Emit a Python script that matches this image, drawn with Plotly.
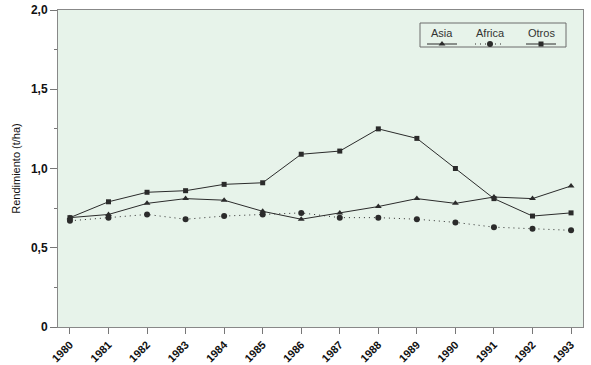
import plotly.graph_objects as go

years = list(range(1980, 1994))
asia = [0.69, 0.71, 0.78, 0.81, 0.80, 0.73, 0.68, 0.72, 0.76, 0.81, 0.78, 0.82, 0.81, 0.89]
africa = [0.67, 0.69, 0.71, 0.68, 0.70, 0.71, 0.72, 0.69, 0.69, 0.68, 0.66, 0.63, 0.62, 0.61]
otros = [0.69, 0.79, 0.85, 0.86, 0.90, 0.91, 1.09, 1.11, 1.25, 1.19, 1.00, 0.81, 0.70, 0.72]
series_names = ["Asia", "Africa", "Otros"]
y_tickvals = [0, 0.5, 1.0, 1.5, 2.0]
y_ticktext = ["0", "0,5", "1,0", "1,5", "2,0"]
y_title = "Rendimiento (t/ha)"

LINE = "#2b2b2b"
BG = "#e7f3ea"
FONT = "Liberation Sans, Arial, sans-serif"

styles = {
    "Asia": dict(symbol="triangle-up", dash="solid", size=6),
    "Africa": dict(symbol="circle", dash="1px,4px", size=6),
    "Otros": dict(symbol="square", dash="solid", size=5),
}

fig = go.Figure()
for name, vals in zip(series_names, [asia, africa, otros]):
    st = styles[name]
    fig.add_trace(go.Scatter(
        x=years, y=vals, mode="lines+markers", name=name,
        line=dict(color=LINE, width=1, dash=st["dash"]),
        marker=dict(symbol=st["symbol"], size=st["size"], color=LINE),
        showlegend=False,
    ))

# custom legend (text above sample) on a pixel-like overlay axis
leg_centers = [442, 490, 541]
fig.add_shape(type="rect", xref="x2", yref="y2", x0=420, x1=566, y0=23, y1=47,
              line=dict(color="#6d6d6d", width=1), fillcolor=BG, layer="below")
for name, cx in zip(series_names, leg_centers):
    st = styles[name]
    fig.add_trace(go.Scatter(
        x=[cx - 15, cx, cx + 15], y=[44, 44, 44], xaxis="x2", yaxis="y2",
        mode="lines", line=dict(color=LINE, width=1, dash=st["dash"]),
        showlegend=False, hoverinfo="skip"))
    fig.add_trace(go.Scatter(
        x=[cx], y=[44], xaxis="x2", yaxis="y2", mode="markers",
        marker=dict(symbol=st["symbol"], size=st["size"], color=LINE),
        showlegend=False, hoverinfo="skip"))
    fig.add_annotation(x=cx, y=33, xref="x2", yref="y2", text=name, showarrow=False,
                       font=dict(family=FONT, size=11, color="#333"))

fig.update_layout(
    width=591, height=365,
    margin=dict(l=58, r=8, t=10, b=38),
    paper_bgcolor="white", plot_bgcolor=BG,
    font=dict(family=FONT, color="#111"),
    xaxis=dict(
        range=[1979.69, 1993.31], tickvals=years, ticktext=[str(y) for y in years],
        tickangle=-45, ticks="outside", ticklen=6, tickcolor="#777", automargin=False,
        tickfont=dict(family=FONT, size=11, weight="bold", color="#111"),
        showgrid=False, zeroline=False, showline=True, linecolor="#888", mirror=True,
    ),
    yaxis=dict(
        range=[0, 2.0], tickvals=y_tickvals, ticktext=y_ticktext, automargin=False,
        ticks="outside", ticklen=7, tickcolor="#777",
        minor=dict(dtick=0.25, ticks="outside", ticklen=3, tickcolor="#777"),
        tickfont=dict(family=FONT, size=12, weight="bold", color="#111"),
        title=dict(text=y_title, font=dict(family=FONT, size=11, color="#111"), standoff=8),
        showgrid=False, zeroline=False, showline=True, linecolor="#888", mirror=True,
    ),
    xaxis2=dict(range=[58, 583], overlaying="x", visible=False, fixedrange=True),
    yaxis2=dict(range=[327, 10], overlaying="y", visible=False, fixedrange=True),
)

fig.write_html("out.html", config={"displayModeBar": False},
               post_script="document.body.style.margin='0';")
